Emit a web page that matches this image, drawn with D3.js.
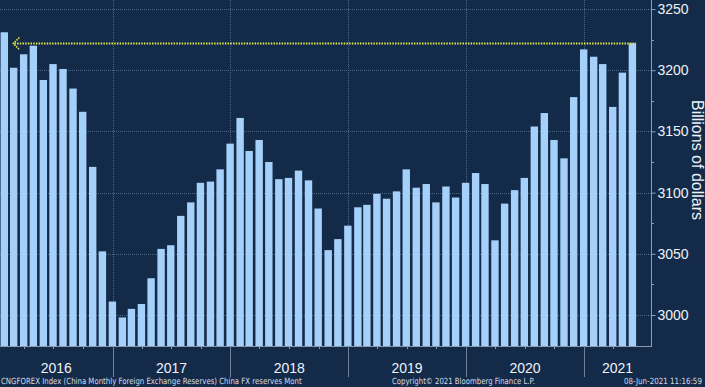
<!DOCTYPE html>
<html><head><meta charset="utf-8">
<script src="https://cdn.jsdelivr.net/npm/d3@7"></script>
<style>
html,body{margin:0;padding:0;background:#132b49;}
svg{display:block;}
</style></head>
<body>
<svg id="chart" width="705" height="387"></svg>
<script>
// China FX reserves, billions of USD, monthly from Jan 2016 to May 2021
const startMonth = "2016-01";
const reserves = [
  3231, 3202, 3213, 3220, 3192, 3205, 3201, 3185, 3166, 3121, 3052, 3011,
  2998, 3005, 3009, 3030, 3054, 3057, 3081, 3092, 3108, 3109, 3119, 3140,
  3161, 3134, 3143, 3125, 3111, 3112, 3118, 3110, 3087, 3053, 3062, 3073,
  3088, 3090, 3099, 3095, 3101, 3119, 3104, 3107, 3092, 3105, 3096, 3108,
  3116, 3107, 3061, 3091, 3102, 3112, 3154, 3165, 3143, 3128, 3178, 3217,
  3211, 3205, 3170, 3198, 3222
];
const yearLabels = ["2016", "2017", "2018", "2019", "2020", "2021"];
const yTicks = [3000, 3050, 3100, 3150, 3200, 3250];
const yMinorTicks = [3025, 3075, 3125, 3175, 3225];
const yTitle = "Billions of dollars";
const footerLeft = "CNGFOREX Index (China Monthly Foreign Exchange Reserves) China FX reserves  Mont";
const footerMid = "Copyright\u00A9 2021 Bloomberg Finance L.P.";
const footerRight = "08-Jun-2021 11:16:59";

const W = 705, H = 387;
const plotL = 0, plotR = 651, plotT = 0, plotB = 346;
const svg = d3.select("#chart");
svg.append("rect").attr("width", W).attr("height", H).attr("fill", "#132b49");

const parse = d3.timeParse("%Y-%m");
const start = parse(startMonth);
const monthEnds = reserves.map((v, i) => d3.timeDay.offset(d3.timeMonth.offset(start, i + 1), -1));

const x = d3.scaleTime()
  .domain([new Date(2017, 0, 1), new Date(2021, 0, 1)])
  .range([112.7, 584]);
const y = d3.scaleLinear().domain([3000, 3250]).range([315, 9]);

const gridColor = "#4a6686";
svg.append("g").selectAll("line").data(yTicks).join("line")
  .attr("x1", plotL).attr("x2", plotR)
  .attr("y1", d => Math.round(y(d)) + 0.5).attr("y2", d => Math.round(y(d)) + 0.5)
  .attr("stroke", gridColor).attr("stroke-width", 1).attr("stroke-dasharray", "1,1");

const yearStarts = yearLabels.slice(1).map(s => new Date(+s, 0, 1));
svg.append("g").selectAll("line").data(yearStarts).join("line")
  .attr("x1", d => Math.round(x(d)) + 0.5).attr("x2", d => Math.round(x(d)) + 0.5)
  .attr("y1", plotT).attr("y2", plotB)
  .attr("stroke", gridColor).attr("stroke-width", 1).attr("stroke-dasharray", "1,1");

const bw = 7.4;
svg.append("clipPath").attr("id", "pc").append("rect")
  .attr("x", plotL).attr("y", plotT).attr("width", plotR - plotL).attr("height", plotB - plotT);
svg.append("g").attr("clip-path", "url(#pc)").selectAll("rect").data(reserves).join("rect")
  .attr("x", (d, i) => x(monthEnds[i]) - bw / 2)
  .attr("width", bw)
  .attr("y", d => y(d))
  .attr("height", d => plotB - y(d))
  .attr("fill", "#a5d0f9");

const last = reserves[reserves.length - 1];
const ly = Math.round(y(last)) + 0.5;
const lineRight = x(monthEnds[monthEnds.length - 1]) + bw / 2;
const tipX = x(monthEnds[0]) + 9;
const yellow = "#dfe54a";
svg.append("line")
  .attr("x1", tipX + 1).attr("x2", lineRight)
  .attr("y1", ly).attr("y2", ly)
  .attr("stroke", yellow).attr("stroke-width", 2).attr("stroke-dasharray", "1.5,1.2");
svg.append("path")
  .attr("d", `M${tipX + 6},${ly - 6} L${tipX},${ly} L${tipX + 6},${ly + 6}`)
  .attr("fill", "none").attr("stroke", yellow).attr("stroke-width", 1.6).attr("stroke-dasharray", "1.5,1");

const axisColor = "#8d9cb0";
svg.append("line").attr("x1", plotR + 0.5).attr("x2", plotR + 0.5).attr("y1", 0).attr("y2", plotB)
  .attr("stroke", axisColor).attr("stroke-width", 1);
const yAxis = d3.axisRight(y).tickValues(yTicks).tickSize(4).tickPadding(2).tickFormat(d3.format("d"));
const ga = svg.append("g").attr("transform", `translate(${plotR + 0.5},0)`).call(yAxis);
ga.select(".domain").remove();
ga.selectAll(".tick line").attr("stroke", axisColor);
ga.selectAll(".tick text").attr("fill", "#eef2f7").attr("font-family", "Liberation Sans, Arial, sans-serif")
  .attr("font-size", 14);
svg.append("g").selectAll("line").data(yMinorTicks).join("line")
  .attr("x1", plotR).attr("x2", plotR + 3)
  .attr("y1", d => Math.round(y(d)) + 0.5).attr("y2", d => Math.round(y(d)) + 0.5)
  .attr("stroke", axisColor);

svg.append("text")
  .attr("transform", `translate(692,160) rotate(90)`)
  .attr("text-anchor", "middle")
  .attr("fill", "#eef2f7").attr("font-family", "Liberation Sans, Arial, sans-serif")
  .attr("font-size", 16)
  .text(yTitle);

svg.append("line").attr("x1", 0).attr("x2", plotR + 1).attr("y1", plotB + 0.5).attr("y2", plotB + 0.5)
  .attr("stroke", axisColor);
const quarterTicks = d3.timeMonth.every(3).range(new Date(2016, 0, 2), new Date(2021, 6, 1))
  .filter(d => d.getMonth() !== 0 && x(d) > 0 && x(d) < plotR);
svg.append("g").selectAll("line").data(quarterTicks).join("line")
  .attr("x1", d => Math.round(x(d)) + 0.5).attr("x2", d => Math.round(x(d)) + 0.5)
  .attr("y1", plotB).attr("y2", plotB + 3).attr("stroke", axisColor);
svg.append("g").selectAll("line").data(yearStarts).join("line")
  .attr("x1", d => Math.round(x(d)) + 0.5).attr("x2", d => Math.round(x(d)) + 0.5)
  .attr("y1", plotB).attr("y2", 377).attr("stroke", "#6f8299");

svg.append("g").selectAll("text").data(yearLabels).join("text")
  .attr("x", d => {
    const a = Math.max(plotL, x(new Date(+d, 0, 1)));
    const b = Math.min(plotR, x(new Date(+d + 1, 0, 1)));
    return (a + b) / 2;
  })
  .attr("y", 373)
  .attr("text-anchor", "middle")
  .attr("fill", "#eef2f7").attr("font-family", "Liberation Sans, Arial, sans-serif")
  .attr("font-size", 14)
  .text(d => d);

// footer texts, horizontally condensed to fit their spans
const ff = "DejaVu Sans, Verdana, sans-serif";
function footer(txt, x0, width) {
  const g = svg.append("g");
  const t = g.append("text").attr("x", 0).attr("y", 0).attr("fill", "#d5dce6")
    .attr("font-family", ff).attr("font-size", 8.5).text(txt);
  const natural = t.node().getComputedTextLength();
  g.attr("transform", `translate(${x0},383.5) scale(${width / natural},1)`);
}
footer(footerLeft, 1, 301);
footer(footerMid, 392, 143);
footer(footerRight, 624, 78);
</script>
</body></html>
